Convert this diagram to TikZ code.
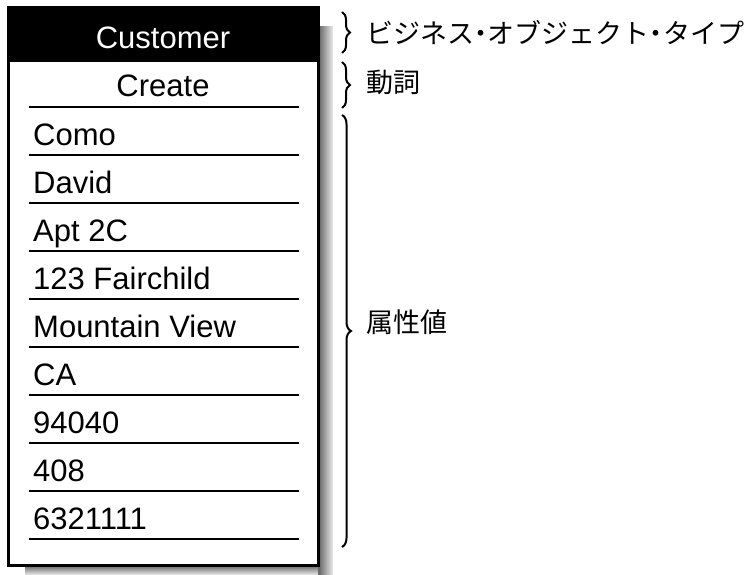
\documentclass[tikz,border=0pt]{standalone}
\usepackage{fontspec}
\setmainfont{Liberation Sans}
\newfontfamily\jpfont{Noto Sans CJK JP}
\usetikzlibrary{decorations.pathreplacing}
\newcommand{\nakaguro}{\makebox[0.5em]{・}}
\tikzset{
  item/.style={anchor=base west, inner sep=0pt, font=\fontsize{31}{36}\selectfont},
  ctext/.style={anchor=base, inner sep=0pt, font=\fontsize{31}{36}\selectfont},
  rowline/.style={line width=2.5pt},
  bracebar/.style={line width=2pt, decorate, decoration={brace, amplitude=9pt, aspect=0.5}},
  jplabel/.style={anchor=west, inner sep=0pt, font=\jpfont\fontsize{27}{32}\selectfont},
}
\begin{document}
\begin{tikzpicture}[x=1pt,y=-1pt]
\useasboundingbox (0,0) rectangle (749,575);
% shadow
\shade[left color=gray!75!black, right color=gray!15] (318,27) rectangle (333,575);
\shade[top color=gray!75!black, bottom color=gray!15] (25,565) rectangle (318,575);
% box
\draw[line width=3pt, fill=white] (8,8) rectangle (318,565);
\fill[black] (8,8) rectangle (318,62);
\node[anchor=center, inner sep=0pt, text=white, font=\fontsize{31}{36}\selectfont] (hdr) at (163,38) {Customer};
\node[ctext] (verb) at (163,97) {Create};
\foreach \i/\t in {1/Como,2/David,3/Apt 2C,4/123 Fairchild,5/Mountain View,6/CA,7/94040,8/408,9/6321111}{
  \node[item] (r\i) at (33,{107+48*\i-10}) {\t};
}
\foreach \k in {0,...,9}{
  \draw[rowline] (29,{107+48*\k}) -- (299,{107+48*\k});
}
% braces
\draw[bracebar, decoration={amplitude=8pt}] (342,12) -- (342,53);
\draw[bracebar, decoration={amplitude=8pt}] (342,62) -- (342,108);
\draw[bracebar] (342,115) -- (342,547);
\node[jplabel] (l1) at (366,33) {ビジネス\nakaguro オブジェクト\nakaguro タイプ};
\node[jplabel] (l2) at (366,82) {動詞};
\node[jplabel] (l3) at (366,322) {属性値};
\end{tikzpicture}
\end{document}
